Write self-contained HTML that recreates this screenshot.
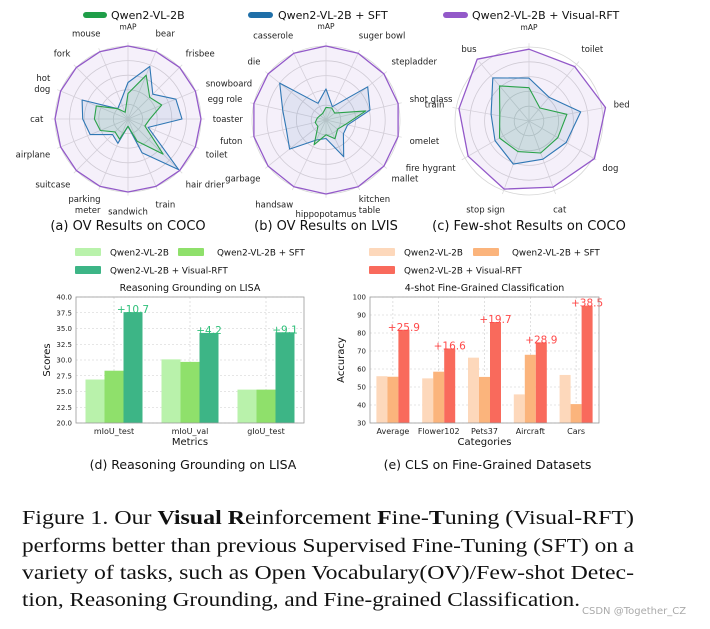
<!DOCTYPE html>
<html><head><meta charset="utf-8">
<style>
body{margin:0;background:#fff;}
svg text{font-family:"DejaVu Sans","Liberation Sans",sans-serif;}
.cap{font-family:"Liberation Serif",serif;font-size:20px;fill:#111;}
</style></head>
<body>
<svg id="fig" width="710" height="624" viewBox="0 0 710 624" xmlns="http://www.w3.org/2000/svg">
<g id="legendTop">
<rect x="83" y="12" width="24" height="6" rx="3" fill="#1f9e48"/>
<text x="111" y="19" font-size="11" fill="#111">Qwen2-VL-2B</text>
<rect x="248" y="12" width="25" height="6" rx="3" fill="#1f6fa8"/>
<text x="278" y="19" font-size="11" fill="#111">Qwen2-VL-2B + SFT</text>
<rect x="443" y="12" width="25" height="6" rx="3" fill="#9359c9"/>
<text x="472" y="19" font-size="11" fill="#111">Qwen2-VL-2B + Visual-RFT</text>
</g>
<g id="radars"></g>
<g id="bars"></g>
<g>
<text class="cap" x="22" y="524" textLength="612" lengthAdjust="spacingAndGlyphs">Figure 1.  Our <tspan font-weight="bold">Visual R</tspan>einforcement <tspan font-weight="bold">F</tspan>ine-<tspan font-weight="bold">T</tspan>uning (Visual-RFT)</text>
<text class="cap" x="22" y="552" textLength="612" lengthAdjust="spacingAndGlyphs">performs better than previous Supervised Fine-Tuning (SFT) on a</text>
<text class="cap" x="22" y="579" textLength="612" lengthAdjust="spacingAndGlyphs">variety of tasks, such as Open Vocabulary(OV)/Few-shot Detec-</text>
<text class="cap" x="22" y="606" textLength="558" lengthAdjust="spacingAndGlyphs">tion, Reasoning Grounding, and Fine-grained Classification.</text>
<text x="582" y="614" font-size="10" fill="#aaa" font-family="Liberation Sans">CSDN @Together_CZ</text>
</g>
</svg>
<script>
// ---- radar data ----
const cocoCats=["mAP","bear","frisbee","snowboard","toaster","toilet","hair drier","train","sandwich","parking\nmeter","suitcase","airplane","cat","hot\ndog","fork","mouse"];
const cocoBase=[0.35,0.65,0.42,0.5,0.3,0.25,0.68,0.33,0.1,0.3,0.25,0.41,0.46,0.47,0.2,0.1];
const cocoSft=[0.5,0.78,0.48,0.71,0.74,0.3,0.98,0.5,0.1,0.36,0.3,0.56,0.62,0.68,0.2,0.26];
const cocoRft=[1,1,1,1,1,1,1,1,1,1,1,1,1,1,1,1];
const lvisCats=["mAP","suger bowl","stepladder","shot glass","omelet","mallet","kitchen\ntable","hippopotamus","handsaw","garbage","futon","egg role","die","casserole"];
const lvisBase=[0.17,0.18,0.15,0.55,0.27,0.2,0.28,0.2,0.37,0.14,0.15,0.12,0.1,0.1];
const lvisSft=[0.42,0.2,0.72,0.61,0.3,0.3,0.55,0.25,0.3,0.63,0.55,0.6,0.8,0.25];
const lvisRft=[1,1,1,1,1,1,1,1,1,1,1,1,1,1];
const fewCats=["mAP","toilet","bed","dog","cat","stop sign","fire hygrant","train","bus"];
const fewBase=[0.45,0.23,0.52,0.45,0.46,0.44,0.46,0.4,0.62];
const fewSft=[0.58,0.42,0.71,0.58,0.55,0.62,0.53,0.52,0.76];
const fewRft=[0.97,0.96,1.05,1.02,0.95,0.98,0.95,0.96,1.09];
// ---- bar data ----
const lisaCats=["mIoU_test","mIoU_val","gIoU_test"];
const lisaBase=[26.9,30.1,25.3];
const lisaSft=[28.3,29.7,25.3];
const lisaRft=[37.6,34.3,34.4];
const lisaGain=["+10.7","+4.2","+9.1"];
const lisaTicks=[20,22.5,25,27.5,30,32.5,35,37.5,40];
const clsCats=["Average","Flower102","Pets37","Aircraft","Cars"];
const clsBase=[56,54.8,66.3,45.9,56.7];
const clsSft=[55.7,58.5,55.6,67.9,40.5];
const clsRft=[81.8,71.4,86.1,74.8,95.2];
const clsGain=["+25.9","+16.6","+19.7","+28.9","+38.5"];
const clsTicks=[30,40,50,60,70,80,90,100];

const NS="http://www.w3.org/2000/svg";
function mk(tag,attrs,parent,txt){const e=document.createElementNS(NS,tag);for(const k in attrs)e.setAttribute(k,attrs[k]);if(txt!==undefined)e.textContent=txt;parent.appendChild(e);return e;}

function radar(id,cx,cy,R,cats,series,caption){
  const g=mk('g',{},document.getElementById('radars'));
  
  
  const n=cats.length;
  const pt=(i,v)=>{const a=i*2*Math.PI/n;return [cx+R*v*Math.sin(a),cy-R*v*Math.cos(a)];};
  for(let k=1;k<=5;k++){const c=mk('circle',{cx:cx,cy:cy,r:R*k/5,fill:'none',stroke:'#d6d6d6','stroke-width':0.8},g);}
  for(let i=0;i<n;i++){const p=pt(i,1.05);const l=mk('line',{x1:cx,y1:cy,x2:p[0],y2:p[1],stroke:'#dcdcdc','stroke-width':0.8},g);}
  const styles=[['#9359c9','rgba(147,89,201,0.09)','series-rft'],['#2f77b4','rgba(47,119,180,0.10)','series-sft'],['#2aa24a','rgba(42,162,74,0.10)','series-base']];
  const order=[series[2],series[1],series[0]];
  order.forEach((vals,si)=>{
    const pts=vals.map((v,i)=>pt(i,v).map(x=>x.toFixed(1)).join(',')).join(' ');
    const p=mk('polygon',{points:pts,fill:styles[si][1],stroke:styles[si][0],'stroke-width':si==0?1.3:1.1,'stroke-linejoin':'round'},g);
    
    
  });
  cats.forEach((c,i)=>{
    const p=pt(i,1.27);const a=i*2*Math.PI/n;const s=Math.sin(a);
    const anchor=Math.abs(s)<0.2?'middle':(s>0?'start':'end');
    const lines=c.split('\n');
    const t=mk('text',{x:(p[0]-(anchor=='start'?8:anchor=='end'?-8:0)).toFixed(1),y:(p[1]+3-(lines.length-1)*5.5).toFixed(1),'font-size':i==0?7.5:8.5,'text-anchor':anchor,fill:'#222'},g);
    
    
    lines.forEach((ln,j)=>mk('tspan',{x:t.getAttribute('x'),dy:j?11:0},t,ln));
  });
  const ct=mk('text',{x:cx,y:230,'font-size':13,'text-anchor':'middle',fill:'#111'},g,caption);
  
  
}
radar('radar-coco',128,119,73,cocoCats,[cocoBase,cocoSft,cocoRft],'(a) OV Results on COCO');
radar('radar-lvis',326,120,74,lvisCats,[lvisBase,lvisSft,lvisRft],'(b) OV Results on LVIS');
radar('radar-fewshot',529,121,74,fewCats,[fewBase,fewSft,fewRft],'(c) Few-shot Results on COCO');

function bars(id,x0,x1,y0,y1,ymin,ymax,ticks,cats,series,gains,colors,gainColor,bw,title,ylab,xlab,caption,legendX2,fmt){
  const g=mk('g',{},document.getElementById('bars'));
  
  
  const ys=v=>y1-(v-ymin)/(ymax-ymin)*(y1-y0);
  const n=cats.length;const step=(x1-x0)/n;
  const xs=i=>x0+step*(i+0.5);
  ticks.forEach(t=>{
    const y=ys(t);
    const l=mk('line',{x1:x0,x2:x1,y1:y,y2:y,stroke:'#ccc','stroke-width':0.6,'stroke-dasharray':'2,2'},g);
    
    const tt=mk('text',{x:x0-4,y:y+2.5,'font-size':7,'text-anchor':'end',fill:'#222'},g,fmt(t));
    
  });
  cats.forEach((c,i)=>{
    const l=mk('line',{x1:xs(i),x2:xs(i),y1:y0,y2:y1,stroke:'#ccc','stroke-width':0.6,'stroke-dasharray':'2,2'},g);
    
    series.forEach((vals,si)=>{
      const bx=xs(i)+(si-1.5)*bw;
      const r=mk('rect',{x:bx,y:ys(vals[i]),width:bw,height:y1-ys(vals[i]),fill:colors[si]},g);
      
    });
    const gt=mk('text',{x:xs(i)+bw,y:ys(series[2][i])+1,'font-size':10.5,'text-anchor':'middle',fill:gainColor},g,gains[i]);
    
    const xt=mk('text',{x:xs(i),y:y1+11,'font-size':8,'text-anchor':'middle',fill:'#222'},g,c);
    
  });
  const fr=mk('rect',{x:x0,y:y0,width:x1-x0,height:y1-y0,fill:'none',stroke:'#999','stroke-width':0.8},g);
  
  const cx=(x0+x1)/2;
  const tl=mk('text',{x:cx,y:y0-6,'font-size':9.5,'text-anchor':'middle',fill:'#111'},g,title);
  
  const yl=mk('text',{x:0,y:0,'font-size':10,'text-anchor':'middle',fill:'#111',transform:`translate(${x0-26},${(y0+y1)/2}) rotate(-90)`},g,ylab);
  
  const xl=mk('text',{x:cx,y:y1+22,'font-size':10,'text-anchor':'middle',fill:'#111'},g,xlab);
  
  const cp=mk('text',{x:cx+3,y:469,'font-size':12.5,'text-anchor':'middle',fill:'#111'},g,caption);
  
  const lx=x0-1;
  const leg=[[lx,248,'Qwen2-VL-2B'],[legendX2,248,'Qwen2-VL-2B + SFT'],[lx,266,'Qwen2-VL-2B + Visual-RFT']];
  leg.forEach((e,k)=>{
    const r=mk('rect',{x:e[0],y:e[1],width:26,height:8,rx:1,fill:colors[k]},g);
    
    const t=mk('text',{x:e[0]+(k==1?39:35),y:e[1]+7.5,'font-size':8.8,fill:'#111'},g,e[2]);
    
  });
}
bars('chart-lisa',76,304,297,423,20,40,lisaTicks,lisaCats,[lisaBase,lisaSft,lisaRft],lisaGain,['#b9f2ab','#8fe06b','#3db586'],'#2fc07a',19,'Reasoning Grounding on LISA','Scores','Metrics','(d) Reasoning Grounding on LISA',178,t=>t.toFixed(1));
bars('chart-cls',370,599,297,423,30,100,clsTicks,clsCats,[clsBase,clsSft,clsRft],clsGain,['#fdd8bb','#fbb47c','#f96a5c'],'#ff4a4a',11,'4-shot Fine-Grained Classification','Accuracy','Categories','(e) CLS on Fine-Grained Datasets',473,t=>String(t));
</script>
</body></html>
